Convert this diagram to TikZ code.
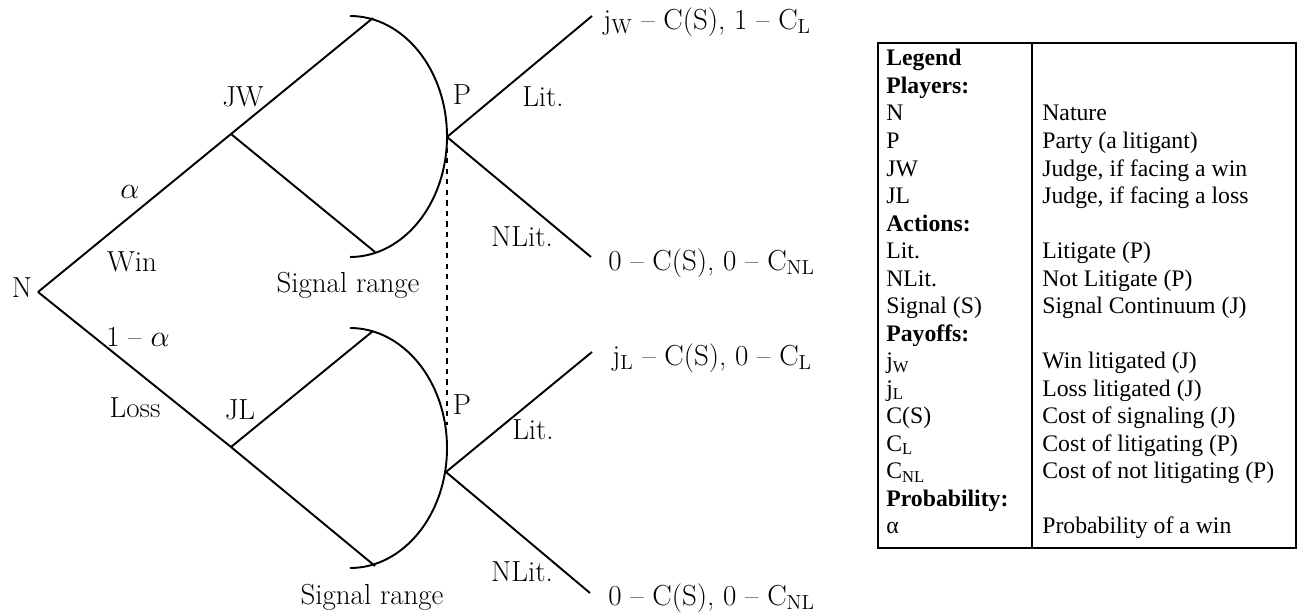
\documentclass[tikz,border=0pt]{standalone}
\usepackage{fontspec}
\usepackage{tikz}
\newfontfamily\legendfont{Liberation Serif}

\begin{document}
\begin{tikzpicture}[
    x=0.02cm, y=-0.02cm,
    every node/.style={font=\fontsize{16.5}{19}\selectfont, inner sep=0pt},
    branch/.style={line width=1.1pt, color=black},
    signal/.style={line width=1.1pt, color=black},
    infoset/.style={dashed, line width=0.9pt},
    payoff/.style={anchor=west},
    legbox/.style={line width=1.1pt},
    legtext/.style={font=\legendfont\fontsize{13.5}{15.6}\selectfont,
                    anchor=base west}
]
\useasboundingbox (0,0) rectangle (1302,615);

\coordinate (n0) at (38,292);
\coordinate (jw) at (231,134);
\coordinate (jl) at (231,447);
\coordinate (jwhi) at (373,18);
\coordinate (jwlo) at (375,252);
\coordinate (jlhi) at (373,331);
\coordinate (jllo) at (375,566);
\coordinate (pw) at (447,137);
\coordinate (pl) at (446,472);
\coordinate (pwlit) at (592,16);
\coordinate (pwnlit) at (591,257);
\coordinate (pllit) at (592,352);
\coordinate (plnlit) at (590,593);
\coordinate (dashend) at (447,425);

\draw[branch] (n0) -- (jw);
\draw[branch] (n0) -- (jl);
\draw[branch] (jw) -- (jwhi);
\draw[branch] (jw) -- (jwlo);
\draw[branch] (jl) -- (jlhi);
\draw[branch] (jl) -- (jllo);
\draw[signal] (350,257) arc[start angle=90, end angle=-90,
                            x radius=97, y radius=120.5];
\draw[signal] (350,568) arc[start angle=90, end angle=-90,
                            x radius=97, y radius=120];
\draw[branch] (pw) -- (pwlit);
\draw[branch] (pw) -- (pwnlit);
\draw[branch] (pl) -- (pllit);
\draw[branch] (pl) -- (plnlit);
\draw[infoset] (pw) -- (dashend);

\node (lbln) at (22,288) {N};
\node (lblalpha) at (130,192) {$\alpha$};
\node (lblwin) at (132,262) {Win};
\node (lbljw) at (243,97) {JW};
\node (lblsigw) at (348,285) {Signal range};
\node (lbloneminus) at (138,337) {1 -- $\alpha$};
\node (lblloss) at (135,408) {Loss};
\node (lbljl) at (240,410) {JL};
\node (lblsigl) at (372,597) {Signal range};
\node (lblpw) at (462,95) {P};
\node (lbllitw) at (543,97) {Lit.};
\node (lblnlitw) at (522,237) {NLit.};
\node (lblpl) at (462,405) {P};
\node (lbllitl) at (533,430) {Lit.};
\node (lblnlitl) at (522,572) {NLit.};

\node[payoff] (payww) at (603,22)
     {j\textsubscript{W} -- C(S), 1 -- C\textsubscript{L}};
\node[payoff] (paywn) at (608,263)
     {0 -- C(S), 0 -- C\textsubscript{NL}};
\node[payoff] (paylw) at (612,358)
     {j\textsubscript{L} -- C(S), 0 -- C\textsubscript{L}};
\node[payoff] (payln) at (608,598)
     {0 -- C(S), 0 -- C\textsubscript{NL}};

\coordinate (legtl) at (878,43);
\coordinate (legbr) at (1296,548);
\coordinate (divtop) at (1032,43);
\coordinate (divbot) at (1032,548);
\draw[legbox] (legtl) rectangle (legbr);
\draw[legbox] (divtop) -- (divbot);

\foreach \lft/\rgt [count=\r from 0] in {
    {\textbf{Legend}}/{}, {\textbf{Players:}}/{},
    N/{Nature}, P/{Party (a litigant)},
    JW/{Judge, if facing a win}, JL/{Judge, if facing a loss},
    {\textbf{Actions:}}/{}, {Lit.}/{Litigate (P)},
    {NLit.}/{Not Litigate (P)}, {Signal (S)}/{Signal Continuum (J)},
    {\textbf{Payoffs:}}/{}, {j\textsubscript{W}}/{Win litigated (J)},
    {j\textsubscript{L}}/{Loss litigated (J)}, {C(S)}/{Cost of signaling (J)},
    {C\textsubscript{L}}/{Cost of litigating (P)},
    {C\textsubscript{NL}}/{Cost of not litigating (P)},
    {\textbf{Probability:}}/{}, {α}/{Probability of a win}}
{
    \node[legtext] (legl\r) at (886,66+27.5*\r) {\lft};
    \node[legtext] (legr\r) at (1042,66+27.5*\r) {\rgt};
}

\end{tikzpicture}
\end{document}
